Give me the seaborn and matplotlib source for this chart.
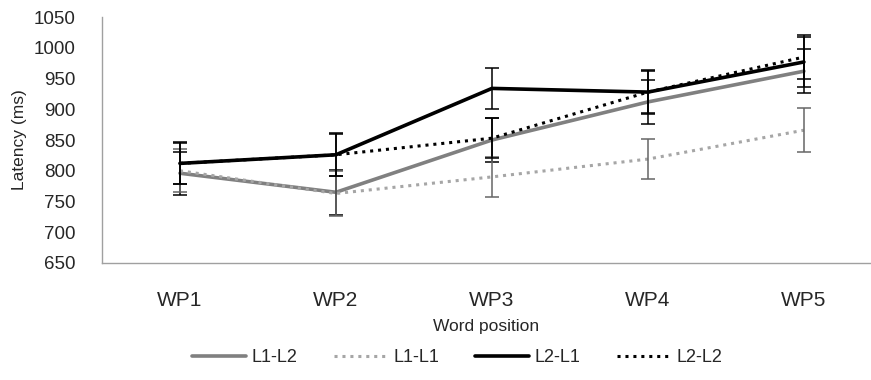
import matplotlib
matplotlib.use("Agg")
import matplotlib.pyplot as plt
import numpy as np
import pandas as pd
import seaborn as sns

positions = ["WP1", "WP2", "WP3", "WP4", "WP5"]
series = ["L1-L2", "L1-L1", "L2-L1", "L2-L2"]
l1_l2 = [796, 765, 850, 912, 962]
l1_l1 = [800, 763, 790, 819, 866]
l2_l1 = [812, 826, 934, 928, 977]
l2_l2 = [812, 826, 853, 928, 985]
err_l1_l2 = [35, 37, 36, 36, 36]
err_l1_l1 = [35, 36, 33, 33, 36]
err_l2_l1 = [33, 34, 33, 34, 40]
err_l2_l2 = [34, 35, 33, 36, 36]

values = {"L1-L2": l1_l2, "L1-L1": l1_l1, "L2-L1": l2_l1, "L2-L2": l2_l2}
errors = {"L1-L2": err_l1_l2, "L1-L1": err_l1_l1, "L2-L1": err_l2_l1, "L2-L2": err_l2_l2}

df = pd.DataFrame(
    [(i, s, values[s][i], errors[s][i]) for s in series for i in range(len(positions))],
    columns=["pos", "series", "latency", "err"],
)

styles = {
    "L1-L2": dict(color="#808080", ls="-", lw=2.6),
    "L1-L1": dict(color="#a6a6a6", ls=(0, (1, 1.6)), lw=2.2),
    "L2-L1": dict(color="#000000", ls="-", lw=2.6),
    "L2-L2": dict(color="#000000", ls=(0, (1, 1.6)), lw=2.2),
}

sns.set_theme(style="white")
plt.rcParams["font.family"] = ["Liberation Sans", "DejaVu Sans"]

fig = plt.figure(figsize=(8.71, 3.8), dpi=100)
ax = fig.add_axes([0.117, 0.308, 0.883, 0.647])

for s in series:
    sub = df[df["series"] == s]
    st = styles[s]
    sns.lineplot(data=sub, x="pos", y="latency", ax=ax, color=st["color"],
                 linestyle=st["ls"], linewidth=st["lw"], label=s, errorbar=None)
    ecol = "#000000" if s != "L1-L1" else "#666666"
    ax.errorbar(sub["pos"], sub["latency"], yerr=sub["err"], fmt="none",
                ecolor=ecol, elinewidth=1.1, capsize=5, capthick=1.1)

ax.set_xlim(-0.5, 4.43)
ax.set_ylim(650, 1050)
ax.set_yticks(np.arange(650, 1051, 50))
ax.set_xticks(range(len(positions)))
ax.set_xticklabels(positions, fontsize=15)
ax.tick_params(axis="x", length=0, pad=20)
ax.tick_params(axis="y", labelsize=13.5, length=0, pad=19)
ax.set_xlabel("Word position", fontsize=12.5, labelpad=7)
ax.set_ylabel("Latency (ms)", fontsize=12.5, labelpad=5)

for side in ["top", "right"]:
    ax.spines[side].set_visible(False)
ax.spines["left"].set_color("#a0a0a0")
ax.spines["bottom"].set_color("#a0a0a0")
ax.spines["left"].set_linewidth(1)
ax.spines["bottom"].set_linewidth(1)

ax.legend(loc="center", bbox_to_anchor=(0.462, -0.386), ncol=4, frameon=False,
          fontsize=13, handlelength=3.0, columnspacing=2.0, handletextpad=0.3)

fig.savefig("out.png", dpi=100)
